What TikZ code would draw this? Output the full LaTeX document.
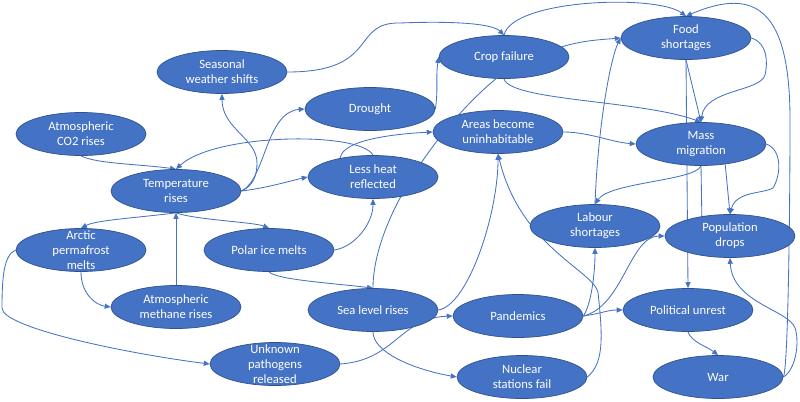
\documentclass[tikz,border=0pt]{standalone}
\usepackage{fontspec}
\setmainfont{Carlito}
\usepackage{xcolor}
\usepackage{tikz}
\usetikzlibrary{
  arrows.meta,
  shapes.geometric,
  backgrounds
}
\definecolor{bubblefill}{RGB}{68, 114, 196}
\definecolor{bubbleedge}{RGB}{47, 82, 143}
\definecolor{linkblue}{RGB}{68, 114, 196}

\begin{document}
\begin{tikzpicture}[x=0.025cm,y=-0.025cm,
  bubble/.style={ellipse,draw=bubbleedge,line width=0.5pt,fill=bubblefill,text=white,
    minimum width=3.25cm,minimum height=1.075cm,inner sep=0pt,align=center,
    font=\fontsize{9}{10.7}\selectfont},
  tall/.style={inner ysep=-5pt},
  link/.style={linkblue,line width=0.6pt,-{Triangle[length=4.2pt,width=3.6pt]}},
  bareline/.style={linkblue,line width=0.6pt}]
\useasboundingbox (0,0) rectangle (800,401);
% causes
\node[bubble](seasonal) at (222,72){Seasonal\\weather shifts};
\node[bubble](drought) at (370,109){Drought};
\node[bubble](co2) at (81,134){Atmospheric\\CO2 rises};
\node[bubble](temp) at (176,191){Temperature\\rises};
\node[bubble](lessheat) at (373,177){Less heat\\reflected};
\node[bubble,tall](arctic) at (81,250){Arctic\\permafrost\\melts};
\node[bubble](polar) at (269,250){Polar ice melts};
\node[bubble](methane) at (176,307){Atmospheric\\methane rises};
\node[bubble](sealevel) at (373,310){Sea level rises};
\node[bubble,tall](pathogens) at (275,364){Unknown\\pathogens\\released};
% effects
\node[bubble](crop) at (504,57){Crop failure};
\node[bubble](food) at (686,38){Food\\shortages};
\node[bubble](areas) at (498,132){Areas become\\uninhabitable};
\node[bubble](migration) at (701,144){Mass\\migration};
\node[bubble](labour) at (595,226){Labour\\shortages};
\node[bubble](population) at (730,236){Population\\drops};
\node[bubble](pandemics) at (518,316){Pandemics};
\node[bubble](unrest) at (688,310){Political unrest};
\node[bubble](nuclear) at (522,377){Nuclear\\stations fail};
\node[bubble](war) at (718,377){War};
\begin{scope}[on background layer]
% climate links
\draw[link](co2.south) .. controls +(15,8) and +(-35,-5) .. (temp.north);
\draw[link](lessheat.north) .. controls +(-13,-24) and +(39,-36) .. (temp.north);
\draw[link](temp.east) .. controls +(12,-5) and +(0,12) .. (257,163) .. controls +(0,-25) and +(0,35) .. (seasonal.south);
\draw[link](temp.east) .. controls +(24,-11) and +(-39,3) .. (drought.west);
\draw[link](temp.east) .. controls +(25,-3) and +(-22,5) .. (lessheat.west);
\draw[link](temp.south) .. controls +(-40,5) and +(15,-8) .. (arctic.north);
\draw[link](temp.south) .. controls +(20,7) and +(-15,-6) .. (polar.north);
\draw[link](methane.north) -- (temp.south);
\draw[link](arctic.south) .. controls +(0,22) and +(-15,-2) .. (methane.west);
\draw[link](arctic.west) .. controls +(-12,5) and +(0,-30) .. (2,308) .. controls +(0,20) and +(-80,-10) .. (pathogens.west);
\draw[link](polar.east) .. controls +(20,-3) and +(0,25) .. (lessheat.south);
\draw[link](polar.south) .. controls +(8,8) and +(-40,-5) .. (sealevel.north);
\draw[link](lessheat.150) .. controls +(2,-18) and +(-40,2) .. (areas.west);
\draw[bareline](sealevel.north) .. controls +(0,-70) and +(-55,45) .. (crop.250);
\draw[link](pathogens.east) .. controls +(55,-4) and +(-53,2) .. (pandemics.west);
\draw[link](sealevel.east) .. controls +(30,-5) and +(0,60) .. (areas.south);
\draw[link](sealevel.south) .. controls +(0,20) and +(-45,-8) .. (nuclear.west);
\draw[link](nuclear.east) .. controls +(18,-15) and +(4,40) .. (598,292) .. controls +(-6,-22) and +(22,92) .. (areas.south);
% food and crops
\draw[link](seasonal.east) .. controls +(93,0) and +(-50,-1) .. (400,23) .. controls +(50,-2) and +(-12,-12) .. (crop.north);
\draw[link](drought.east) .. controls +(3,-20) and +(-3,20) .. (crop.west);
\draw[link](crop.10) .. controls +(20,-6) and +(-25,2) .. (food.west);
\draw[link](crop.north) .. controls +(8,-36) and +(-30,-22) .. (food.north);
\draw[link](crop.south) .. controls +(6,22) and +(-60,-22) .. (migration.north);
\draw[link](food.south) -- (migration.north);
\draw[link](food.east) .. controls +(16,5) and +(3,-13) .. (765,75) .. controls +(-5,17) and +(4,-33) .. (migration.north);
\draw[link](food.south) -- (unrest.north);
% society
\draw[link](areas.east) .. controls +(25,0) and +(-25,-2) .. (migration.west);
\draw[link](migration.south) .. controls +(-6,15) and +(15,-22) .. (labour.north);
\draw[bareline](migration.south) -- (population.145);
\draw[link](migration.-40) -- (population.north);
\draw[link](migration.east) .. controls +(16,6) and +(8,-13) .. (773,188) .. controls +(-11,6) and +(6,-23) .. (population.north);
\draw[link](labour.north) .. controls +(3,-80) and +(-10,20) .. (food.west);
\draw[link](pandemics.east) .. controls +(8,-12) and +(0,25) .. (labour.south);
\draw[link](pandemics.east) .. controls +(40,-10) and +(-35,0) .. (population.west);
\draw[link](pandemics.east) .. controls +(20,-3) and +(-15,0) .. (unrest.west);
\draw[link](unrest.south) .. controls +(3,10) and +(-10,-8) .. (war.north);
\draw[link](war.east) .. controls +(12,-7) and +(5,15) .. (795,328) .. controls +(-6,-18) and +(2,45) .. (population.south);
\draw[link](war.east) .. controls +(5,-10) and +(0,80) .. (790,120) .. controls +(0,-110) and +(70,-30) .. (food.north);
\end{scope}
\end{tikzpicture}
\end{document}
